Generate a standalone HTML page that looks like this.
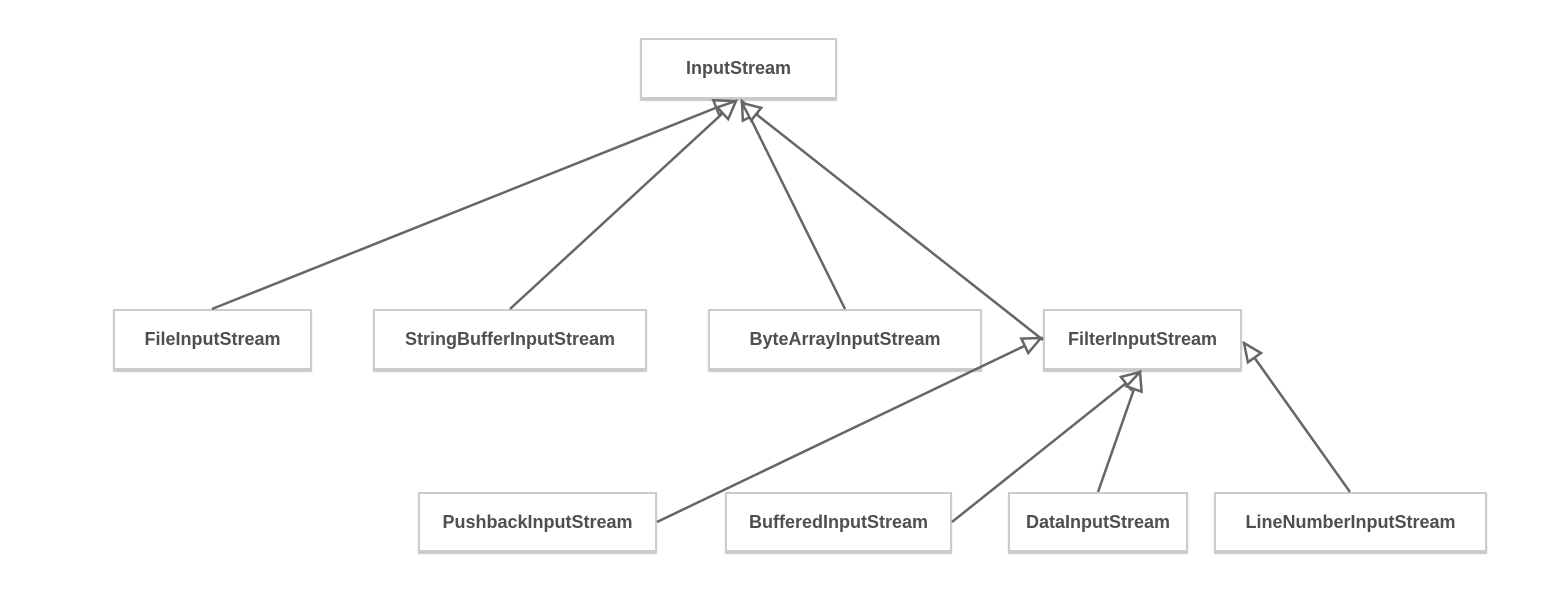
<!DOCTYPE html>
<html><head><style>
body{margin:0;background:#fff;width:1548px;height:594px;overflow:hidden;position:relative;font-family:"Liberation Sans",sans-serif}
.b{position:absolute;box-sizing:border-box;border:2px solid #c9cdcd;box-shadow:0 2px 1px #c4c8c8;background:#fff;display:flex;align-items:center;justify-content:center;font-weight:bold;font-size:18px;color:#4f4f4f}
svg{position:absolute;left:0;top:0;z-index:2}
</style></head><body>
<svg width="1548" height="594">
<defs><marker id="a" viewBox="0 0 22 22" refX="20" refY="11" markerWidth="22" markerHeight="22" markerUnits="userSpaceOnUse" orient="auto"><path d="M2,3 L20,11 L2,19 Z" fill="#fff" stroke="#666" stroke-width="2.5"/></marker></defs>
<g stroke="#666" stroke-width="2.5" fill="none" marker-end="url(#a)">
<line x1="212" y1="309" x2="733" y2="101"/>
<line x1="510" y1="309" x2="736" y2="101"/>
<line x1="845" y1="309" x2="742" y2="101"/>
<line x1="1043" y1="340" x2="742" y2="103"/>
<line x1="657" y1="522" x2="1041" y2="338"/>
<line x1="952" y1="522" x2="1140" y2="372"/>
<line x1="1098" y1="492" x2="1140" y2="372"/>
<line x1="1350" y1="492" x2="1244" y2="343"/>
</g></svg>
<div class="b" style="left:640px;top:38px;width:197px;height:61px">InputStream</div>
<div class="b" style="left:113px;top:309px;width:199px;height:61px">FileInputStream</div>
<div class="b" style="left:373px;top:309px;width:274px;height:61px">StringBufferInputStream</div>
<div class="b" style="left:708px;top:309px;width:274px;height:61px">ByteArrayInputStream</div>
<div class="b" style="left:1043px;top:309px;width:199px;height:61px">FilterInputStream</div>
<div class="b" style="left:418px;top:492px;width:239px;height:60px">PushbackInputStream</div>
<div class="b" style="left:725px;top:492px;width:227px;height:60px">BufferedInputStream</div>
<div class="b" style="left:1008px;top:492px;width:180px;height:60px">DataInputStream</div>
<div class="b" style="left:1214px;top:492px;width:273px;height:60px">LineNumberInputStream</div>
</body></html>
